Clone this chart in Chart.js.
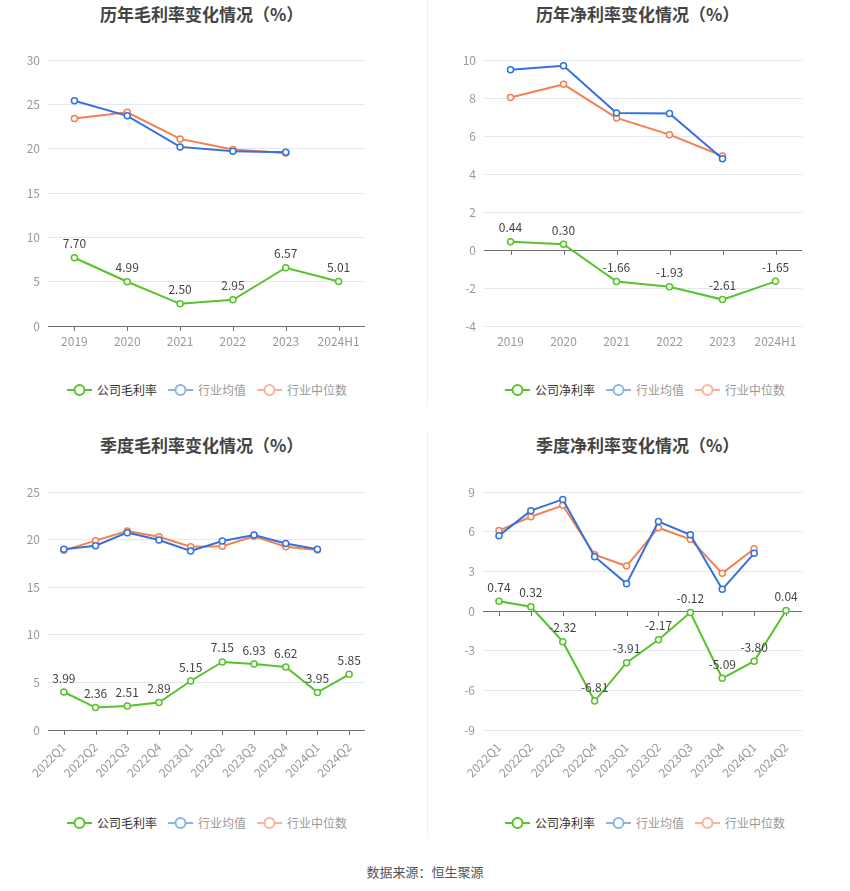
<!DOCTYPE html>
<html>
<head>
<meta charset="utf-8">
<script src="https://cdn.jsdelivr.net/npm/chart.js@4.4.1/dist/chart.umd.min.js"></script>
<style>
  body { margin: 0; background: #fff; font-family: "Noto Sans CJK SC", "Noto Sans", sans-serif; }
  #page { position: relative; width: 850px; height: 891px; overflow: hidden; }
  canvas { position: absolute; }
  .title { position: absolute; font-size: 17px; font-weight: bold; color: #444; white-space: nowrap; line-height: 20px; }
  .legend { position: absolute; display: flex; align-items: center; font-size: 12px; line-height: 14px; white-space: nowrap; }
  .legend .item { display: flex; align-items: center; margin-right: 11px; }
  .legend svg { margin-right: 5px; }
  .divider { position: absolute; left: 427px; width: 1px; background: #f2f2f2; }
  #source { position: absolute; left: 0; width: 850px; top: 862px; text-align: center; font-size: 13px; color: #555; }
</style>
</head>
<body>
<div id="page">
  <div class="divider" style="top:0;height:407px"></div>
  <div class="divider" style="top:431px;height:407px"></div>

  <div class="title" style="left:100px;top:4px">历年毛利率变化情况（%）</div>
  <div class="title" style="left:536px;top:4px">历年净利率变化情况（%）</div>
  <div class="title" style="left:100px;top:435px">季度毛利率变化情况（%）</div>
  <div class="title" style="left:536px;top:435px">季度净利率变化情况（%）</div>

  <canvas id="c1" width="425" height="320" style="left:0;top:40px"></canvas>
  <canvas id="c2" width="425" height="320" style="left:425px;top:40px"></canvas>
  <canvas id="c3" width="425" height="330" style="left:0;top:470px"></canvas>
  <canvas id="c4" width="425" height="330" style="left:425px;top:470px"></canvas>

  <div class="legend" id="l1" style="left:67px;top:383px"></div>
  <div class="legend" id="l2" style="left:505px;top:383px"></div>
  <div class="legend" id="l3" style="left:67px;top:816px"></div>
  <div class="legend" id="l4" style="left:505px;top:816px"></div>

  <div id="source">数据来源：恒生聚源</div>
</div>

<script>
// categories
var years = ['2019', '2020', '2021', '2022', '2023', '2024H1'];
var quarters = ['2022Q1', '2022Q2', '2022Q3', '2022Q4', '2023Q1', '2023Q2', '2023Q3', '2023Q4', '2024Q1', '2024Q2'];

// annual gross margin
var yearGrossCompany = [7.70, 4.99, 2.50, 2.95, 6.57, 5.01];
var yearGrossAvg = [25.4, 23.7, 20.2, 19.7, 19.6, null];
var yearGrossMedian = [23.4, 24.1, 21.1, 19.9, 19.5, null];

// annual net margin
var yearNetCompany = [0.44, 0.30, -1.66, -1.93, -2.61, -1.65];
var yearNetAvg = [9.49, 9.70, 7.21, 7.18, 4.80, null];
var yearNetMedian = [8.03, 8.72, 6.95, 6.07, 4.95, null];

// quarterly gross margin
var qGrossCompany = [3.99, 2.36, 2.51, 2.89, 5.15, 7.15, 6.93, 6.62, 3.95, 5.85];
var qGrossAvg = [18.98, 19.36, 20.73, 19.96, 18.80, 19.85, 20.48, 19.60, 18.98, null];
var qGrossMedian = [18.87, 19.89, 20.90, 20.30, 19.26, 19.30, 20.34, 19.26, 18.90, null];

// quarterly net margin
var qNetCompany = [0.74, 0.32, -2.32, -6.81, -3.91, -2.17, -0.12, -5.09, -3.80, 0.04];
var qNetAvg = [5.70, 7.59, 8.44, 4.11, 2.07, 6.76, 5.77, 1.64, 4.36, null];
var qNetMedian = [6.08, 7.13, 7.99, 4.26, 3.40, 6.30, 5.42, 2.85, 4.71, null];

// y axis ticks
var yTicks1 = { min: 0, max: 30, step: 5 };
var yTicks2 = { min: -4, max: 10, step: 2 };
var yTicks3 = { min: 0, max: 25, step: 5 };
var yTicks4 = { min: -9, max: 9, step: 3 };

var GREEN = '#58c22a';
var BLUE = '#3471e0';
var ORANGE = '#f5804f';
var FONT = '"Noto Sans CJK SC", "Noto Sans", sans-serif';

// value labels above the company series + zero axis line with ticks
var labelPlugin = {
  id: 'valueLabels',
  afterDatasetsDraw: function(chart) {
    var ctx = chart.ctx;
    var meta = chart.getDatasetMeta(0);
    var data = chart.data.datasets[0].data;
    ctx.save();
    ctx.font = '12px ' + FONT;
    ctx.fillStyle = '#444';
    ctx.textAlign = 'center';
    ctx.textBaseline = 'bottom';
    meta.data.forEach(function(pt, i) {
      ctx.fillText(data[i].toFixed(2), pt.x, pt.y - 8);
    });
    ctx.restore();
  },
  beforeDatasetsDraw: function(chart) {
    var ctx = chart.ctx;
    var x = chart.scales.x;
    var y0 = chart.scales.y.getPixelForValue(0);
    ctx.save();
    ctx.strokeStyle = '#6e7079';
    ctx.lineWidth = 1;
    ctx.beginPath();
    ctx.moveTo(chart.chartArea.left, y0 + 0.5);
    ctx.lineTo(chart.chartArea.right, y0 + 0.5);
    chart.data.labels.forEach(function(l, i) {
      var px = Math.round(x.getPixelForValue(i)) + 0.5;
      ctx.moveTo(px, y0);
      ctx.lineTo(px, y0 + 5);
    });
    ctx.stroke();
    ctx.restore();
  }
};

function series(label, data, color) {
  return {
    label: label,
    data: data,
    borderColor: color,
    backgroundColor: color,
    borderWidth: 2,
    pointRadius: 3,
    pointHoverRadius: 3,
    pointBorderWidth: 1.5,
    pointBackgroundColor: '#fff',
    pointBorderColor: color,
    tension: 0,
    spanGaps: false
  };
}

function makeChart(id, labels, company, avg, median, companyName, yt, yWidth, xHeight, padTop, padRight, rotate, xPad) {
  new Chart(document.getElementById(id), {
    type: 'line',
    data: {
      labels: labels,
      datasets: [
        series(companyName, company, GREEN),
        series('行业均值', avg, BLUE),
        series('行业中位数', median, ORANGE)
      ]
    },
    options: {
      responsive: false,
      animation: false,
      layout: { padding: { top: padTop, right: padRight, left: 0, bottom: 0 } },
      plugins: { legend: { display: false }, tooltip: { enabled: false } },
      scales: {
        x: {
          offset: true,
          grid: { display: false },
          border: { display: false },
          ticks: {
            color: '#999',
            font: { size: 12, family: FONT },
            autoSkip: false,
            padding: xPad,
            minRotation: rotate,
            maxRotation: rotate
          },
          afterFit: function(s) { s.height = xHeight; }
        },
        y: {
          min: yt.min,
          max: yt.max,
          border: { display: false },
          grid: { color: '#e3e8f2', drawTicks: false },
          ticks: {
            stepSize: yt.step,
            color: '#999',
            padding: 8,
            font: { size: 12, family: FONT }
          },
          afterFit: function(s) { s.width = yWidth; }
        }
      }
    },
    plugins: [labelPlugin]
  });
}

makeChart('c1', years, yearGrossCompany, yearGrossAvg, yearGrossMedian, '公司毛利率', yTicks1, 48, 34, 20, 60, 0, 0);
makeChart('c2', years, yearNetCompany, yearNetAvg, yearNetMedian, '公司净利率', yTicks2, 59, 34, 20, 48, 0, 0);
makeChart('c3', quarters, qGrossCompany, qGrossAvg, qGrossMedian, '公司毛利率', yTicks3, 48, 70, 22, 60, 45, 2);
makeChart('c4', quarters, qNetCompany, qNetAvg, qNetMedian, '公司净利率', yTicks4, 58, 70, 22, 48, 45, 2);

function marker(color) {
  return '<svg width="25" height="14"><line x1="0" y1="7" x2="25" y2="7" stroke="' + color +
    '" stroke-width="2"/><circle cx="12.5" cy="7" r="5" fill="#fff" stroke="' + color + '" stroke-width="2"/></svg>';
}

function legend(id, companyName) {
  var items = [
    [companyName, GREEN, '#333'],
    ['行业均值', '#8fb0f0', '#999'],
    ['行业中位数', '#f8b49a', '#999']
  ];
  var html = '';
  items.forEach(function(it) {
    html += '<div class="item">' + marker(it[1]) + '<span style="color:' + it[2] + '">' + it[0] + '</span></div>';
  });
  document.getElementById(id).innerHTML = html;
}

legend('l1', '公司毛利率');
legend('l2', '公司净利率');
legend('l3', '公司毛利率');
legend('l4', '公司净利率');
</script>
</body>
</html>
